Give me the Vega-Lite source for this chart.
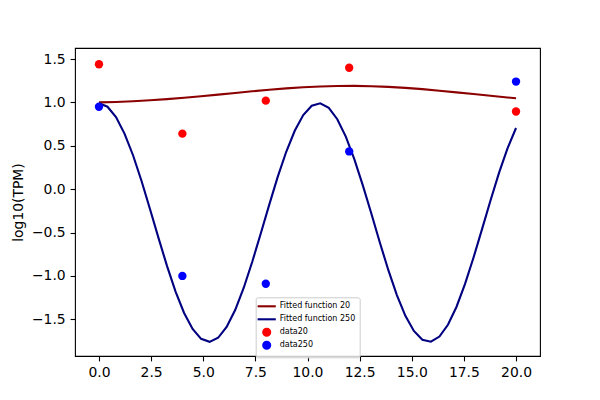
{
  "$schema": "https://vega.github.io/schema/vega-lite/v6.json",
  "width": 465,
  "height": 308,
  "autosize": "none",
  "padding": {"left": 75, "top": 48, "right": 60, "bottom": 44},
  "background": "white",
  "datasets": {
    "fit": [
      {"series": "Fitted function 20", "x": 0, "y": 1.000},
      {"series": "Fitted function 20", "x": 0.816, "y": 1.005},
      {"series": "Fitted function 20", "x": 1.633, "y": 1.014},
      {"series": "Fitted function 20", "x": 2.449, "y": 1.025},
      {"series": "Fitted function 20", "x": 3.265, "y": 1.038},
      {"series": "Fitted function 20", "x": 4.082, "y": 1.054},
      {"series": "Fitted function 20", "x": 4.898, "y": 1.071},
      {"series": "Fitted function 20", "x": 5.714, "y": 1.090},
      {"series": "Fitted function 20", "x": 6.531, "y": 1.109},
      {"series": "Fitted function 20", "x": 7.347, "y": 1.128},
      {"series": "Fitted function 20", "x": 8.163, "y": 1.146},
      {"series": "Fitted function 20", "x": 8.980, "y": 1.162},
      {"series": "Fitted function 20", "x": 9.796, "y": 1.175},
      {"series": "Fitted function 20", "x": 10.612, "y": 1.184},
      {"series": "Fitted function 20", "x": 11.429, "y": 1.189},
      {"series": "Fitted function 20", "x": 12.245, "y": 1.190},
      {"series": "Fitted function 20", "x": 13.061, "y": 1.186},
      {"series": "Fitted function 20", "x": 13.878, "y": 1.179},
      {"series": "Fitted function 20", "x": 14.694, "y": 1.167},
      {"series": "Fitted function 20", "x": 15.510, "y": 1.153},
      {"series": "Fitted function 20", "x": 16.327, "y": 1.135},
      {"series": "Fitted function 20", "x": 17.143, "y": 1.116},
      {"series": "Fitted function 20", "x": 17.959, "y": 1.096},
      {"series": "Fitted function 20", "x": 18.776, "y": 1.076},
      {"series": "Fitted function 20", "x": 19.592, "y": 1.057},
      {"series": "Fitted function 20", "x": 20, "y": 1.048},
      {"series": "Fitted function 250", "x": 0, "y": 0.990},
      {"series": "Fitted function 250", "x": 0.408, "y": 0.950},
      {"series": "Fitted function 250", "x": 0.816, "y": 0.831},
      {"series": "Fitted function 250", "x": 1.224, "y": 0.640},
      {"series": "Fitted function 250", "x": 1.633, "y": 0.391},
      {"series": "Fitted function 250", "x": 2.041, "y": 0.094},
      {"series": "Fitted function 250", "x": 2.449, "y": -0.231},
      {"series": "Fitted function 250", "x": 2.857, "y": -0.564},
      {"series": "Fitted function 250", "x": 3.265, "y": -0.887},
      {"series": "Fitted function 250", "x": 3.673, "y": -1.180},
      {"series": "Fitted function 250", "x": 4.082, "y": -1.427},
      {"series": "Fitted function 250", "x": 4.490, "y": -1.612},
      {"series": "Fitted function 250", "x": 4.898, "y": -1.725},
      {"series": "Fitted function 250", "x": 5.306, "y": -1.760},
      {"series": "Fitted function 250", "x": 5.714, "y": -1.713},
      {"series": "Fitted function 250", "x": 6.122, "y": -1.589},
      {"series": "Fitted function 250", "x": 6.531, "y": -1.393},
      {"series": "Fitted function 250", "x": 6.939, "y": -1.139},
      {"series": "Fitted function 250", "x": 7.347, "y": -0.840},
      {"series": "Fitted function 250", "x": 7.755, "y": -0.514},
      {"series": "Fitted function 250", "x": 8.163, "y": -0.181},
      {"series": "Fitted function 250", "x": 8.571, "y": 0.141},
      {"series": "Fitted function 250", "x": 8.980, "y": 0.431},
      {"series": "Fitted function 250", "x": 9.388, "y": 0.673},
      {"series": "Fitted function 250", "x": 9.796, "y": 0.854},
      {"series": "Fitted function 250", "x": 10.204, "y": 0.961},
      {"series": "Fitted function 250", "x": 10.612, "y": 0.989},
      {"series": "Fitted function 250", "x": 11.020, "y": 0.937},
      {"series": "Fitted function 250", "x": 11.429, "y": 0.806},
      {"series": "Fitted function 250", "x": 11.837, "y": 0.606},
      {"series": "Fitted function 250", "x": 12.245, "y": 0.347},
      {"series": "Fitted function 250", "x": 12.653, "y": 0.044},
      {"series": "Fitted function 250", "x": 13.061, "y": -0.281},
      {"series": "Fitted function 250", "x": 13.469, "y": -0.614},
      {"series": "Fitted function 250", "x": 13.878, "y": -0.934},
      {"series": "Fitted function 250", "x": 14.286, "y": -1.221},
      {"series": "Fitted function 250", "x": 14.694, "y": -1.460},
      {"series": "Fitted function 250", "x": 15.102, "y": -1.634},
      {"series": "Fitted function 250", "x": 15.510, "y": -1.736},
      {"series": "Fitted function 250", "x": 15.918, "y": -1.758},
      {"series": "Fitted function 250", "x": 16.327, "y": -1.699},
      {"series": "Fitted function 250", "x": 16.735, "y": -1.563},
      {"series": "Fitted function 250", "x": 17.143, "y": -1.358},
      {"series": "Fitted function 250", "x": 17.551, "y": -1.095},
      {"series": "Fitted function 250", "x": 17.959, "y": -0.791},
      {"series": "Fitted function 250", "x": 18.367, "y": -0.463},
      {"series": "Fitted function 250", "x": 18.776, "y": -0.131},
      {"series": "Fitted function 250", "x": 19.184, "y": 0.187},
      {"series": "Fitted function 250", "x": 19.592, "y": 0.471},
      {"series": "Fitted function 250", "x": 20, "y": 0.705}
    ],
    "obs": [
      {"series": "data20", "x": 0, "y": 1.44},
      {"series": "data20", "x": 4, "y": 0.64},
      {"series": "data20", "x": 8, "y": 1.02},
      {"series": "data20", "x": 12, "y": 1.40},
      {"series": "data20", "x": 20, "y": 0.895},
      {"series": "data250", "x": 0, "y": 0.95},
      {"series": "data250", "x": 4, "y": -1.00},
      {"series": "data250", "x": 8, "y": -1.09},
      {"series": "data250", "x": 12, "y": 0.435},
      {"series": "data250", "x": 20, "y": 1.24}
    ]
  },
  "encoding": {
    "x": {"field": "x", "type": "quantitative", "scale": {"domain": [-1.15, 21.15], "nice": false, "zero": false},
          "axis": {"values": [0, 2.5, 5, 7.5, 10, 12.5, 15, 17.5, 20], "format": ".1f", "title": null}},
    "y": {"field": "y", "type": "quantitative", "scale": {"domain": [-1.923, 1.627], "nice": false, "zero": false},
          "axis": {"values": [-1.5, -1, -0.5, 0, 0.5, 1, 1.5], "format": ".1f", "title": "log10(TPM)", "titlePadding": 6}},
    "color": {"field": "series", "type": "nominal",
              "scale": {"domain": ["Fitted function 20", "Fitted function 250", "data20", "data250"],
                        "range": ["#8b0000", "#000080", "#ff0000", "#0000ff"]},
              "legend": {
                "title": null,
                "orient": "none",
                "legendX": 180.7,
                "legendY": 249.3,
                "padding": 4,
                "fillColor": "rgba(255,255,255,0.8)",
                "strokeColor": "#cccccc",
                "cornerRadius": 2,
                "labelFont": "DejaVu Sans",
                "labelFontSize": 8,
                "labelColor": "black",
                "symbolSize": 49,
                "symbolOffset": 2,
                "labelOffset": 8,
                "rowPadding": -3.5,
                "gridAlign": "all",
                "symbolOpacity": 1,
                "symbolStrokeWidth": 2.1
              }}
  },
  "layer": [
    {
      "data": {"name": "fit"},
      "mark": {"type": "line", "strokeWidth": 2.1}
    },
    {
      "data": {"name": "obs"},
      "mark": {"type": "point", "filled": true, "opacity": 1, "size": 70},
      "encoding": {
        "shape": {"field": "series", "type": "nominal",
                  "scale": {"domain": ["Fitted function 20", "Fitted function 250", "data20", "data250"],
                            "range": ["M-2.6,0H2.6", "M-2.6,0H2.6", "circle", "circle"]},
                  "legend": {"title": null}}
      }
    }
  ],
  "config": {
    "view": {"stroke": "black", "strokeWidth": 1.1},
    "axis": {
      "domain": false,
      "grid": false,
      "ticks": true,
      "tickColor": "black",
      "tickSize": 4.9,
      "tickWidth": 1.1,
      "labelFont": "DejaVu Sans",
      "labelFontSize": 13.9,
      "labelColor": "black",
      "labelPadding": 4.9,
      "titleFont": "DejaVu Sans",
      "titleFontSize": 13.9,
      "titleFontWeight": "normal",
      "titleColor": "black"
    }
  }
}
